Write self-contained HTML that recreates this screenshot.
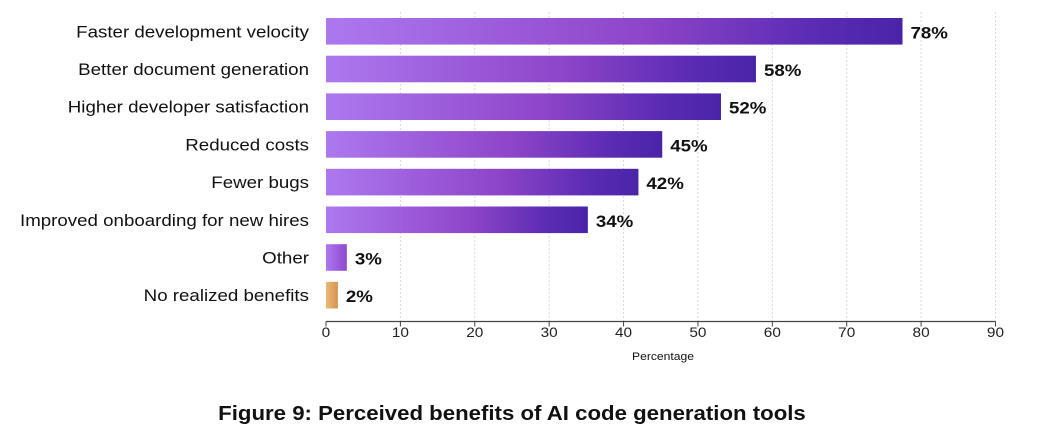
<!DOCTYPE html>
<html><head><meta charset="utf-8"><style>
html,body{margin:0;padding:0;background:#fff;}
svg{display:block;font-family:"Liberation Sans",sans-serif;}
</style></head><body>
<svg id="chart" width="1053" height="442" viewBox="0 0 1053 442" xmlns="http://www.w3.org/2000/svg">
<defs>
<linearGradient id="gPurple" x1="0" x2="1" y1="0" y2="0">
<stop offset="0" stop-color="#ad78ef"/><stop offset="0.55" stop-color="#8e45c9"/><stop offset="0.85" stop-color="#5a2bb3"/><stop offset="1" stop-color="#4a24a8"/>
</linearGradient>
<linearGradient id="gSmall" x1="0" x2="1" y1="0" y2="0">
<stop offset="0" stop-color="#ad78ef"/><stop offset="1" stop-color="#9148cf"/>
</linearGradient>
<linearGradient id="gOrange" x1="0" x2="1" y1="0" y2="0">
<stop offset="0" stop-color="#ecb876"/><stop offset="1" stop-color="#d29550"/>
</linearGradient>
</defs>
<g id="grid"></g><g id="bars"></g><g id="axis"></g>
<text id="xtitle" x="663" y="360" font-size="11" text-anchor="middle" fill="#111">Percentage</text>
<text id="title" x="512" y="420" font-size="20" font-weight="bold" text-anchor="middle" fill="#111">Figure 9: Perceived benefits of AI code generation tools</text>
</svg>
<script>
const categories = ["Faster development velocity","Better document generation","Higher developer satisfaction","Reduced costs","Fewer bugs","Improved onboarding for new hires","Other","No realized benefits"];
const values = [77.5, 57.8, 53.1, 45.2, 42, 35.2, 2.8, 1.6];
const valueLabels = ["78%","58%","52%","45%","42%","34%","3%","2%"];
const ticks = [0,10,20,30,40,50,60,70,80,90];
const NS="http://www.w3.org/2000/svg";
const x0=326, x1=995.5, xmax=90;
const xs=v=>x0+(v/xmax)*(x1-x0);
const rowTop=i=>18+i*37.7;
const barH=26.6;
const axisY=321.5;
function mk(t,a,p){const e=document.createElementNS(NS,t);for(const k in a)e.setAttribute(k,a[k]);p.appendChild(e);return e;}
function widen(el,f){const w=el.getComputedTextLength();el.setAttribute('textLength',(w*f).toFixed(1));el.setAttribute('lengthAdjust','spacingAndGlyphs');}
const grid=document.getElementById('grid'),bars=document.getElementById('bars'),axis=document.getElementById('axis');
ticks.forEach(t=>{
  if(t>0){const g=mk('line',{x1:xs(t),x2:xs(t),y1:12,y2:axisY,stroke:'#d8d8d8','stroke-width':1,'stroke-dasharray':'2,2'},grid);
  
  }
  const tk=mk('line',{x1:xs(t),x2:xs(t),y1:axisY,y2:axisY+5,stroke:'#444','stroke-width':1},axis);
  
  
  const tl=mk('text',{x:xs(t),y:337,'font-size':14,'text-anchor':'middle',fill:'#222'},axis);
  tl.textContent=t;
  
  
  widen(tl,1.1);
});
const al=mk('line',{x1:x0,x2:x1,y1:axisY,y2:axisY,stroke:'#444','stroke-width':1.3},axis);


categories.forEach((c,i)=>{
  const y=rowTop(i);
  const fill=i===7?'url(#gOrange)':(values[i]<10?'url(#gSmall)':'url(#gPurple)');
  const r=mk('rect',{x:x0,y:y,width:Math.max(0,xs(values[i])-x0),height:barH,fill:fill},bars);
  
  
  const cl=mk('text',{x:309,y:y+barH/2+6,'font-size':17,'text-anchor':'end',fill:'#111'},bars);
  cl.textContent=c;
  
  
  widen(cl,1.1);
  const vl=mk('text',{x:xs(values[i])+8,y:y+barH/2+7,'font-size':17,'font-weight':'bold',fill:'#111'},bars);
  vl.textContent=valueLabels[i];
  
  
  widen(vl,1.1);
});
widen(document.getElementById('title'),1.11);
widen(document.getElementById('xtitle'),1.1);
</script>
</body></html>
